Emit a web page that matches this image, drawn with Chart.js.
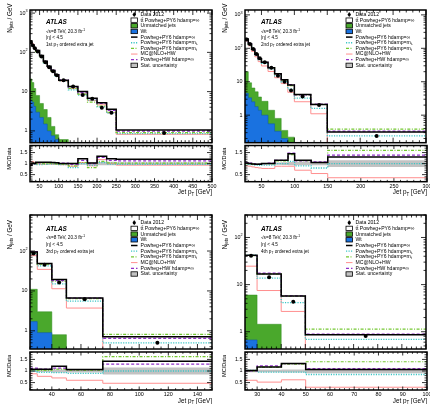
<!DOCTYPE html>
<html>
<head>
<meta charset="utf-8">
<title>Jet pT extra jets</title>
<script src="https://cdn.jsdelivr.net/npm/chart.js@4.4.0/dist/chart.umd.min.js"></script>
<style>
body{margin:0;background:#fff}
#wrap{position:relative;width:430px;height:404px;overflow:hidden}
canvas{position:absolute;left:0;top:0}
</style>
</head>
<body>
<div id="wrap"></div>
<script>
/* ---- panel 1 : 1st extra jet ---- */
const p1Edges     = [25,30,35,40,50,60,70,80,90,100,125,150,175,200,225,250,500];
const p1Data      = [185,150,128,105,78,56,42,33,26,19.5,13.5,8.2,6.6,3.9,2.9,0.88];
const p1Unmatched = [21,17,12,8,5,3.5,2.2,1.3,0.8,0.6,0.3,0.2,0.15,0.1,0.1,0.05];
const p1Wt        = [6,5.4,4.2,3.0,2.2,1.5,1.0,0.75,0.6,0.42,0.3,0.2,0.15,0.1,0.1,0.05];
const p1Nom    = [0.92,1.03,1.0,1.06,1.06,1.06,1.06,1.05,1.04,1.0,1.0,1.22,1.03,1.33,1.22,1.2];
const p1Cyan   = [0.93,0.97,0.97,0.96,0.96,0.97,0.98,0.98,0.97,0.95,0.82,1.0,0.92,1.05,0.98,0.97];
const p1Green  = [0.95,1.0,1.02,1.0,1.0,1.0,1.02,1.0,0.99,0.97,0.9,1.05,0.82,1.1,1.03,1.02];
const p1Pink   = [0.98,1.1,1.02,0.98,0.97,0.97,0.98,0.97,0.96,0.95,0.88,1.05,0.9,1.18,1.0,0.93];
const p1Purple = [0.93,1.0,1.0,1.03,1.04,1.05,1.05,1.05,1.04,1.02,0.96,1.15,1.0,1.28,1.15,1.12];
const p1Stat   = [0.02,0.02,0.02,0.02,0.02,0.02,0.03,0.03,0.03,0.03,0.04,0.05,0.06,0.07,0.08,0.06];

/* ---- panel 2 : 2nd extra jet ---- */
const p2Edges     = [25,30,35,40,45,50,60,70,80,90,100,125,150,300];
const p2Data      = [185,135,95,68,50,38,26,15,10,5.5,3.6,2.0,0.24];
const p2Unmatched = [20,9.3,6.5,5,3.5,2.6,1.4,0.8,0.35,0.22,0.1,0.08,0.05];
const p2Wt        = [4.5,3.3,2.5,1.8,1.4,1.0,0.55,0.33,0.2,0.12,0.06,0.05,0.03];
const p2Nom    = [1.03,1.0,0.98,0.97,0.97,1.0,1.0,1.15,1.15,1.45,1.15,1.05,1.3];
const p2Cyan   = [0.97,0.95,0.95,0.93,0.92,0.93,0.93,1.0,1.0,1.1,0.9,0.8,1.0];
const p2Green  = [1.0,1.0,0.98,0.97,0.98,1.0,1.0,1.12,1.12,1.4,1.12,1.05,1.6];
const p2Pink   = [0.9,0.88,0.85,0.82,0.8,0.78,0.78,0.88,0.88,0.88,0.7,0.55,0.36];
const p2Purple = [1.05,1.02,1.0,0.98,0.98,1.0,1.02,1.15,1.15,1.48,1.12,1.08,1.38];
const p2Stat   = [0.02,0.02,0.02,0.03,0.03,0.03,0.04,0.05,0.06,0.07,0.07,0.08,0.15];

/* ---- panel 3 : 3rd extra jet ---- */
const p3Edges     = [25,30,40,50,75,150];
const p3Data      = [87,45,16.2,6.2,0.5];
const p3Unmatched = [11,3.0,0.8,0.25,0.05];
const p3Wt        = [1.7,0.9,0.3,0.1,0.02];
const p3Nom    = [1.08,1.08,1.2,1.07,1.42];
const p3Cyan   = [1.0,0.94,0.93,0.9,1.0];
const p3Green  = [1.05,1.03,1.08,1.03,1.62];
const p3Pink   = [0.88,0.77,0.7,0.6,0.47];
const p3Purple = [1.12,1.08,1.12,1.06,1.3];
const p3Stat   = [0.04,0.04,0.06,0.07,0.15];

/* ---- panel 4 : 4th extra jet ---- */
const p4Edges     = [25,30,40,50,100];
const p4Data      = [41,14.4,4.35,0.81];
const p4Unmatched = [6.0,1.44,0.3,0.1];
const p4Wt        = [0.67,0.2,0.1,0.05];
const p4Nom    = [1.02,1.17,1.32,1.07];
const p4Cyan   = [1.03,0.95,0.95,0.85];
const p4Green  = [1.0,1.17,1.3,1.4];
const p4Pink   = [0.6,0.52,0.62,0.3];
const p4Purple = [1.0,1.22,1.32,1.1];
const p4Stat   = [0.05,0.05,0.06,0.1];

/* tick labels */
const p1XTicks = [50,100,150,200,250,300,350,400,450,500];
const p2XTicks = [50,100,150,200,250,300];
const p3XTicks = [40,60,80,100,120,140];
const p4XTicks = [30,40,50,60,70,80,90,100];
const logLabels = [[1,['1']],[10,['10']],[100,['10',['2','sup']]],[1000,['10',['3','sup']]]];
const ratioLabels = [0.5,1,1.5];

const legendLabels = [
  ['Data 2012'],
  ['tt\u0304 Powheg+PY6 hdamp=\u221e'],
  ['Unmatched jets'],
  ['Wt'],
  ['Powheg+PY6 hdamp=\u221e'],
  ['Powheg+PY6 hdamp=m',['t','sub']],
  ['Powheg+PY6 hdamp=m',['t','sub'],['\u2032','sup']],
  ['MC@NLO+HW'],
  ['Powheg+HW hdamp=\u221e'],
  ['Stat. uncertainty']
];
const jetLabels = [
  ['1st p',['T','sub'],' ordered extra jet'],
  ['2nd p',['T','sub'],' ordered extra jet'],
  ['3rd p',['T','sub'],' ordered extra jet'],
  ['4th p',['T','sub'],' ordered extra jet']
];

/* ---------------- */
const FONT = '"Liberation Sans", Arial, Helvetica, sans-serif';
const COL = {green:'#4aa82c', blue:'#1a72e0', cyan:'#3cc6c6', lgreen:'#74c832', pink:'#ff8f8f', purple:'#9030c8', grey:'#c2c2c2'};
const LINES = {
  nom:   {borderColor:'#000', borderWidth:1.5},
  purple:{borderColor:COL.purple, borderWidth:1.2, borderDash:[3,2]},
  lgreen:{borderColor:COL.lgreen, borderWidth:1.2, borderDash:[3,1.5,1,1.5]},
  cyan:  {borderColor:COL.cyan, borderWidth:1.3, borderDash:[1.2,1.3]},
  pink:  {borderColor:COL.pink, borderWidth:1}
};

const panels = [
  {edges:p1Edges,data:p1Data,unm:p1Unmatched,wt:p1Wt,nom:p1Nom,cyan:p1Cyan,lgreen:p1Green,pink:p1Pink,purple:p1Purple,stat:p1Stat,
   xmin:25,xmax:500,ymin:0.5,ymax:1200,xTicks:p1XTicks,xMinor:10,label:jetLabels[0],col:0,row:0},
  {edges:p2Edges,data:p2Data,unm:p2Unmatched,wt:p2Wt,nom:p2Nom,cyan:p2Cyan,lgreen:p2Green,pink:p2Pink,purple:p2Purple,stat:p2Stat,
   xmin:25,xmax:300,ymin:0.15,ymax:1400,xTicks:p2XTicks,xMinor:10,label:jetLabels[1],col:1,row:0},
  {edges:p3Edges,data:p3Data,unm:p3Unmatched,wt:p3Wt,nom:p3Nom,cyan:p3Cyan,lgreen:p3Green,pink:p3Pink,purple:p3Purple,stat:p3Stat,
   xmin:25,xmax:150,ymin:0.35,ymax:800,xTicks:p3XTicks,xMinor:5,label:jetLabels[2],col:0,row:1},
  {edges:p4Edges,data:p4Data,unm:p4Unmatched,wt:p4Wt,nom:p4Nom,cyan:p4Cyan,lgreen:p4Green,pink:p4Pink,purple:p4Purple,stat:p4Stat,
   xmin:25,xmax:100,ymin:0.43,ymax:300,xTicks:p4XTicks,xMinor:2,label:jetLabels[3],col:1,row:1}
];

/* frame geometry (pixels of the 430x404 page) */
const COLS = [{L:30,R:212},{L:245,R:427}];
const ROWS = [
  {mT:10,mB:142.7,rT:145.5,rB:181.7,txt:[12.7,21.7,27.6,34.3],leg:4.5,legStep:5.65,yTitle:-6.5},
  {mT:215,mB:349,rT:352,rB:390,txt:[14.3,22.7,29.6,37],leg:7.7,legStep:5.7,yTitle:5}
];

const wrap = document.getElementById('wrap');
function addCanvas(){
  const c = document.createElement('canvas');
  c.width = 430; c.height = 404;
  wrap.appendChild(c);
  return c;
}

const hist = (edges, vals) => edges.map((e,i)=>({x:e, y:vals[Math.min(i, vals.length-1)]}));
const centres = (edges, vals) => vals.map((v,i)=>({x:(edges[i]+edges[i+1])/2, y:v}));
const times = (a, r) => a.map((v,i)=>v*r[i]);

/* rich text: parts are strings or [text,'sub'|'sup'] */
function rich(ctx, x, y, parts, size, opt={}){
  const pre = (opt.italic?'italic ':'') + (opt.bold?'bold ':'');
  const segs = parts.map(p => typeof p === 'string'
    ? {t:p, s:size, dy:0}
    : {t:p[0], s:size*0.7, dy:p[1]==='sub' ? size*0.3 : -size*0.42});
  let w = 0;
  segs.forEach(s => { ctx.font = `${pre}${s.s}px ${FONT}`; s.w = ctx.measureText(s.t).width; w += s.w; });
  let cx = opt.align==='right' ? x-w : opt.align==='center' ? x-w/2 : x;
  ctx.textAlign = 'left'; ctx.textBaseline = 'middle';
  segs.forEach(s => { ctx.font = `${pre}${s.s}px ${FONT}`; ctx.fillText(s.t, cx, y+s.dy); cx += s.w; });
}

function steps(min, max, st){
  const out = [];
  for(let k = Math.ceil(min/st - 1e-9); k*st <= max + 1e-9; k++) out.push(+(k*st).toFixed(6));
  return out;
}
function logTicks(min, max){
  const out = [];
  for(let e = Math.floor(Math.log10(min)); e <= Math.ceil(Math.log10(max)); e++)
    for(let m = 1; m <= 9; m++){ const v = m*Math.pow(10,e); if(v >= min && v <= max) out.push([v, m===1]); }
  return out;
}

function legendSym(ctx, i, x, y){
  ctx.save();
  ctx.strokeStyle = '#000'; ctx.fillStyle = '#000'; ctx.lineWidth = 0.8;
  const box = c => { ctx.fillStyle = c; ctx.fillRect(x, y-2.2, 6.5, 4.4); ctx.strokeRect(x, y-2.2, 6.5, 4.4); };
  const line = st => {
    ctx.strokeStyle = st.borderColor; ctx.lineWidth = st.borderWidth; ctx.setLineDash(st.borderDash || []);
    ctx.beginPath(); ctx.moveTo(x, y); ctx.lineTo(x+6.5, y); ctx.stroke();
  };
  switch(i){
    case 0: ctx.beginPath(); ctx.arc(x+3.25, y, 1.6, 0, 2*Math.PI); ctx.fill();
            ctx.beginPath(); ctx.moveTo(x+3.25, y-2.4); ctx.lineTo(x+3.25, y+2.4); ctx.stroke(); break;
    case 1: box('#fff'); break;
    case 2: box(COL.green); break;
    case 3: box(COL.blue); break;
    case 4: line(LINES.nom); break;
    case 5: line(LINES.cyan); break;
    case 6: line(LINES.lgreen); break;
    case 7: line(LINES.pink); break;
    case 8: line(LINES.purple); break;
    case 9: box(COL.grey); break;
  }
  ctx.restore();
}

function deco(kind, p){
  return {
    id: 'deco',
    afterDraw(chart){
      const ctx = chart.ctx, a = chart.chartArea, xs = chart.scales.x, ys = chart.scales.y;
      const row = ROWS[p.row];
      ctx.save();
      ctx.strokeStyle = '#000'; ctx.fillStyle = '#000';
      ctx.lineWidth = 0.8; ctx.beginPath();
      steps(xs.min, xs.max, p.xMinor).forEach(v => {
        const px = xs.getPixelForValue(v);
        const len = p.xTicks.some(m => Math.abs(m-v) < 1e-6) ? (kind==='main'?5:3.5) : (kind==='main'?2.5:1.8);
        ctx.moveTo(px, a.bottom); ctx.lineTo(px, a.bottom-len);
        ctx.moveTo(px, a.top); ctx.lineTo(px, a.top+len);
      });
      const yt = kind==='main' ? logTicks(ys.min, ys.max)
        : steps(ys.min, ys.max, 0.1).map(v => [v, ratioLabels.some(m => Math.abs(m-v) < 1e-6)]);
      yt.forEach(([v, major]) => {
        const py = ys.getPixelForValue(v), len = major ? 5 : 2.5;
        ctx.moveTo(a.left, py); ctx.lineTo(a.left+len, py);
        ctx.moveTo(a.right, py); ctx.lineTo(a.right-len, py);
      });
      ctx.stroke();
      ctx.lineWidth = 1.5;
      ctx.strokeRect(a.left, a.top, a.right-a.left, a.bottom-a.top);

      if(kind === 'main'){
        logLabels.filter(([v]) => v >= ys.min && v <= ys.max)
          .forEach(([v, parts]) => rich(ctx, a.left-2.5, ys.getPixelForValue(v), parts, 5.4, {align:'right'}));
        // y title
        ctx.save();
        ctx.translate(a.left-20, a.top+row.yTitle);
        ctx.rotate(-Math.PI/2);
        rich(ctx, 0, 0, ['N',['jets','sub'],' / GeV'], 6.3, {align:'right'});
        ctx.restore();
        // annotations
        const tx = a.left+16;
        rich(ctx, tx, a.top+row.txt[0], ['ATLAS'], 6.4, {bold:true, italic:true});
        rich(ctx, tx, a.top+row.txt[1], ['\u221as=8 TeV, 20.3 fb',['-1','sup']], 4.7);
        rich(ctx, tx, a.top+row.txt[2], ['|\u03b7| < 4.5'], 4.7);
        rich(ctx, tx, a.top+row.txt[3], p.label, 4.7);
        // legend
        legendLabels.forEach((parts, i) => {
          const y = a.top + row.leg + i*row.legStep;
          legendSym(ctx, i, a.left+101, y);
          ctx.fillStyle = '#000';
          rich(ctx, a.left+110.5, y, parts, 5.1);
        });
      } else {
        ratioLabels.forEach(v => rich(ctx, a.left-2.5, ys.getPixelForValue(v), [String(v)], 5.4, {align:'right'}));
        p.xTicks.forEach(v => rich(ctx, xs.getPixelForValue(v), a.bottom+4.6, [String(v)], 5.4, {align:'center'}));
        rich(ctx, a.right, a.bottom+11, ['Jet p',['T','sub'],' [GeV]'], 6.3, {align:'right'});
        ctx.save();
        ctx.translate(a.left-21, (a.top+a.bottom)/2 - 5);
        ctx.rotate(-Math.PI/2);
        rich(ctx, 0, 0, ['MC/Data'], 5.6, {align:'center'});
        ctx.restore();
      }
      ctx.restore();
    }
  };
}

function stepSet(data, style, order, extra={}){
  return Object.assign({data, stepped:true, fill:false, pointRadius:0, order}, style, extra);
}

function baseOptions(pad, p, ymin, ymax, ytype){
  return {
    responsive:false, animation:false, events:[],
    layout:{padding:pad},
    plugins:{legend:{display:false}, tooltip:{enabled:false}},
    elements:{point:{radius:0}, line:{tension:0}},
    scales:{
      x:{type:'linear', min:p.xmin, max:p.xmax, display:false},
      y:{type:ytype, min:ymin, max:ymax, display:false}
    }
  };
}

panels.forEach(p => {
  const c = COLS[p.col], r = ROWS[p.row];
  // main plot
  new Chart(addCanvas(), {
    type:'line',
    data:{datasets:[
      {data:centres(p.edges, p.data), showLine:false, pointRadius:2, pointBackgroundColor:'#000', pointBorderWidth:0, order:0},
      stepSet(hist(p.edges, times(p.data, p.nom)), LINES.nom, 1),
      stepSet(hist(p.edges, times(p.data, p.purple)), LINES.purple, 2),
      stepSet(hist(p.edges, times(p.data, p.lgreen)), LINES.lgreen, 3),
      stepSet(hist(p.edges, times(p.data, p.cyan)), LINES.cyan, 4),
      stepSet(hist(p.edges, times(p.data, p.pink)), LINES.pink, 5),
      stepSet(hist(p.edges, p.wt), {borderColor:'#0b55b0', borderWidth:0.5, backgroundColor:COL.blue}, 6, {fill:'start'}),
      stepSet(hist(p.edges, p.unm), {borderColor:'#2f8a1c', borderWidth:0.5, backgroundColor:COL.green}, 7, {fill:'start'})
    ]},
    options: baseOptions({left:c.L, right:430-c.R, top:r.mT, bottom:404-r.mB}, p, p.ymin, p.ymax, 'logarithmic'),
    plugins:[deco('main', p)]
  });
  // ratio plot
  new Chart(addCanvas(), {
    type:'line',
    data:{datasets:[
      stepSet(hist(p.edges, p.stat.map(e => 1+e)), {borderWidth:0, backgroundColor:COL.grey}, 8, {fill:'+1'}),
      stepSet(hist(p.edges, p.stat.map(e => 1-e)), {borderWidth:0, backgroundColor:COL.grey}, 9),
      stepSet(hist(p.edges, p.nom), LINES.nom, 1),
      stepSet(hist(p.edges, p.purple), LINES.purple, 2),
      stepSet(hist(p.edges, p.lgreen), LINES.lgreen, 3),
      stepSet(hist(p.edges, p.cyan), LINES.cyan, 4),
      stepSet(hist(p.edges, p.pink), LINES.pink, 5)
    ]},
    options: baseOptions({left:c.L, right:430-c.R, top:r.rT, bottom:404-r.rB}, p, 0.18, 1.82, 'linear'),
    plugins:[deco('ratio', p)]
  });
});
</script>
</body>
</html>
